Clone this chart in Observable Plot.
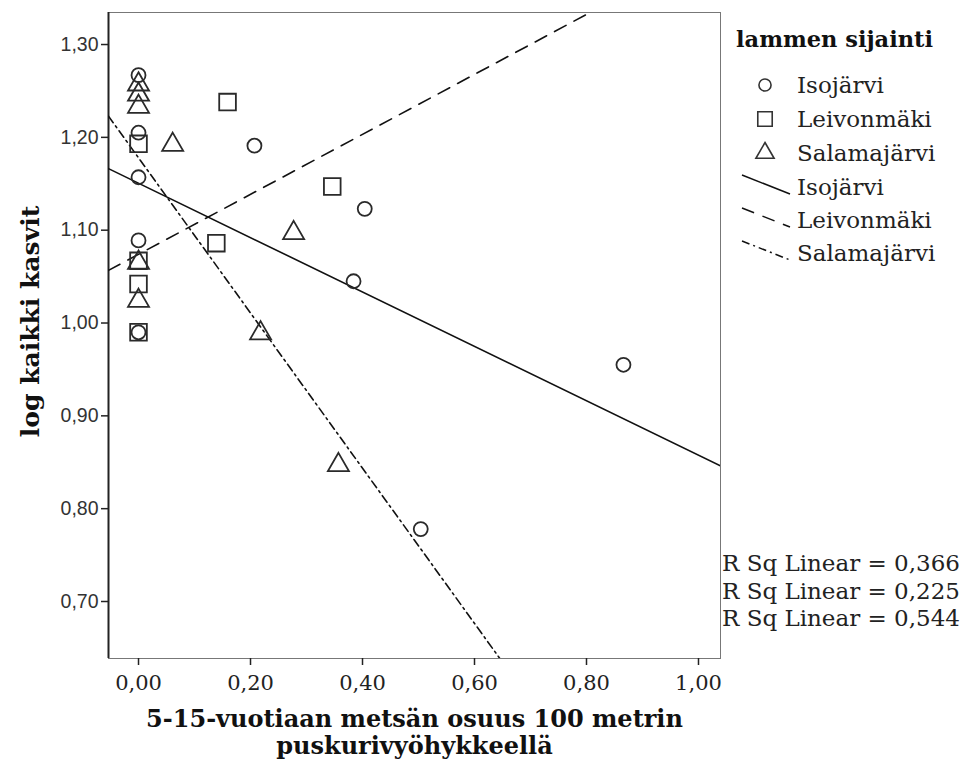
<!DOCTYPE html>
<html><head><meta charset="utf-8">
<script src="https://cdn.jsdelivr.net/npm/d3@7"></script>
<script src="https://cdn.jsdelivr.net/npm/@observablehq/plot@0.6"></script>
<style>
body{margin:0;background:#fff;}
#wrap{position:relative;width:969px;height:760px;overflow:hidden;}
#legend{position:absolute;left:0;top:0;}
</style></head><body><div id="wrap"></div>
<script>
// ---- data ----
const groups = ["Isojärvi", "Leivonmäki", "Salamajärvi"];
const symbols = ["circle", "square", "triangle"];
const isoX = [0, 0, 0, 0, 0, 0.207, 0.404, 0.384, 0.866, 0.504];
const isoY = [1.267, 1.205, 1.157, 1.089, 0.990, 1.191, 1.123, 1.045, 0.955, 0.778];
const leiX = [0, 0, 0, 0, 0.159, 0.346, 0.139];
const leiY = [1.193, 1.067, 1.042, 0.990, 1.238, 1.147, 1.086];
const salX = [0, 0, 0, 0, 0, 0.061, 0.277, 0.218, 0.357];
const salY = [1.257, 1.246, 1.233, 1.065, 1.024, 1.192, 1.097, 0.989, 0.847];
const fitIntercept = [1.1506, 1.074, 1.178];
const fitSlope = [-0.293, 0.323, -0.836];
const rSquared = ["0,366", "0,225", "0,544"];
const xTicks = [0, 0.2, 0.4, 0.6, 0.8, 1.0];
const yTicks = [0.7, 0.8, 0.9, 1.0, 1.1, 1.2, 1.3];
const xDomain = [-0.0536, 1.0393];
const yDomain = [0.6386, 1.3345];
const xTitle = "5-15-vuotiaan metsän osuus 100 metrin\npuskurivyöhykkeellä";
const yTitle = "log kaikki kasvit";
const legendTitle = "lammen sijainti";

// ---- build tables ----
const symbolR = {circle: 7, square: 9.4, triangle: 7.8};
const pts = [];
[[isoX, isoY], [leiX, leiY], [salX, salY]].forEach(([xs, ys], g) => {
  xs.forEach((x, i) => pts.push({x, y: ys[i], group: groups[g], symbol: symbols[g], r: symbolR[symbols[g]]}));
});
const fits = groups.map((g, i) => xDomain.map(x => ({x, y: fitIntercept[i] + fitSlope[i] * x, group: g})));
const dashes = [null, "13,9", "8,4,2,4"];
const fmt = d => d3.format(".2f")(d).replace(".", ",");
const serif = "'DejaVu Serif', serif";

const plot = Plot.plot({
  width: 969, height: 760,
  marginLeft: 108, marginRight: 249, marginTop: 12, marginBottom: 102,
  style: {background: "#fff", color: "#222"},
  x: {domain: xDomain},
  y: {domain: yDomain},
  r: {type: "identity"},
  symbol: {type: "identity"},
  marks: [
    Plot.frame({stroke: "#777", strokeWidth: 1}),
    Plot.axisY(yTicks, {tickSize: 7, tickFormat: fmt, fontSize: 19.5, fontFamily: "'Liberation Sans', Arial, sans-serif", fill: "#333", label: null, stroke: "#222", strokeWidth: 1.5, tickPadding: 3}),
    Plot.axisX(xTicks, {tickSize: 7, tickFormat: fmt, fontSize: 21, fontFamily: serif, fill: "#222", label: null, stroke: "#222", strokeWidth: 1.5, tickPadding: 10}),
    Plot.ruleX([xDomain[0]], {stroke: "#222", strokeWidth: 2}),
    ...fits.map((f, i) => Plot.line(f, {x: "x", y: "y", stroke: "#111", strokeWidth: 1.6, strokeDasharray: dashes[i], clip: true})),
    Plot.dot(pts, {x: "x", y: "y", symbol: "symbol", r: "r", stroke: "#2a2a2a", strokeWidth: 1.8, fill: "none"}),
    Plot.text([yTitle], {frameAnchor: "left", textAnchor: "middle", dx: -78, dy: -14, rotate: -90, fontSize: 25, fontWeight: "bold", fontFamily: serif, fill: "#111"}),
    Plot.text([xTitle], {frameAnchor: "bottom", lineAnchor: "middle", dy: 73.5, fontSize: 24, fontWeight: "bold", fontFamily: serif, fill: "#111", lineHeight: 1.125})
  ]
});
document.getElementById("wrap").appendChild(plot);

// ---- legend & R² annotations drawn in an overlay svg ----
const svg = d3.select("#wrap").append("svg").attr("id", "legend").attr("width", 969).attr("height", 760);
svg.append("text").attr("x", 736).attr("y", 47).attr("font-family", serif)
  .attr("font-weight", "bold").attr("font-size", 22.5).attr("fill", "#111").text(legendTitle);
const rowY = [85, 119, 153, 187, 220, 253];
groups.forEach((g, i) => {
  const s = d3.symbol(d3[{circle: "symbolCircle", square: "symbolSquare", triangle: "symbolTriangle"}[symbols[i]]], Math.PI * symbolR[symbols[i]] ** 2 * 0.75)();
  svg.append("path").attr("d", s).attr("transform", `translate(765,${rowY[i]})`).attr("fill", "none").attr("stroke", "#333").attr("stroke-width", 1.6);
  svg.append("text").attr("x", 797).attr("y", rowY[i] + 8).attr("font-family", serif).attr("font-size", 23).attr("fill", "#222").text(g);
});
groups.forEach((g, i) => {
  const y = rowY[i + 3];
  svg.append("line").attr("x1", 742).attr("y1", y - 12).attr("x2", 790).attr("y2", y + 7)
    .attr("stroke", "#111").attr("stroke-width", 1.5).attr("stroke-dasharray", dashes[i]);
  svg.append("text").attr("x", 797).attr("y", y + 8).attr("font-family", serif).attr("font-size", 23).attr("fill", "#222").text(g);
});
rSquared.forEach((r, i) => {
  svg.append("text").attr("x", 722).attr("y", 571 + i * 27.5).attr("font-family", serif).attr("font-size", 23).attr("fill", "#222").text("R Sq Linear = " + r);
});
</script></body></html>
